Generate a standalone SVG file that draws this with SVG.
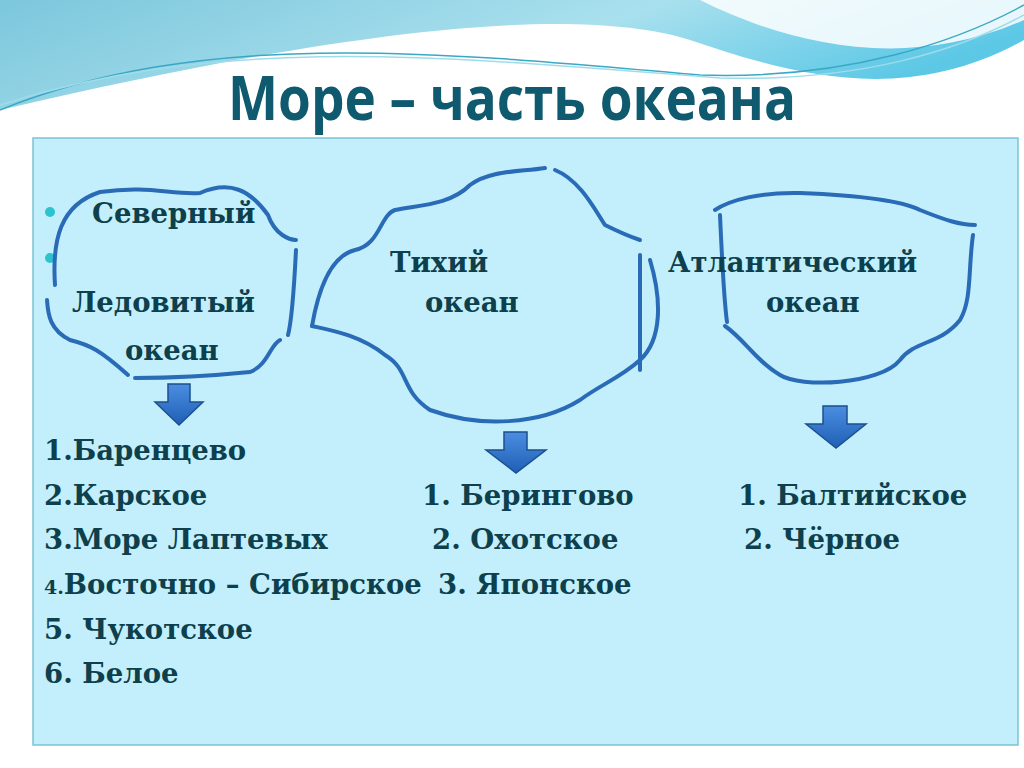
<svg xmlns="http://www.w3.org/2000/svg" width="1024" height="768" viewBox="0 0 1024 768">
<defs>
<linearGradient id="sky" x1="0" y1="0" x2="1" y2="0.3"><stop offset="0" stop-color="#7cc7dc"/><stop offset="0.6" stop-color="#a9e0ee"/><stop offset="1" stop-color="#5cc8e6"/></linearGradient>
<linearGradient id="ar" x1="0" y1="0" x2="0" y2="1"><stop offset="0" stop-color="#4b8ee0"/><stop offset="1" stop-color="#1f5fb6"/></linearGradient>
<style>
.t{font-family:"DejaVu Serif","Liberation Serif",serif;font-weight:bold;font-size:27.5px;fill:#0e3f4c}
.b{fill:none;stroke:#2a6bb8;stroke-width:4;stroke-linecap:round}
.a{fill:url(#ar);stroke:#1c4f90;stroke-width:1.5}
</style>
</defs>
<rect width="1024" height="768" fill="#ffffff"/>
<path d="M0 0H1024V40C900 110 780 70 690 40 560 0 300 40 0 110Z" fill="url(#sky)"/>
<path d="M700 0C780 40 900 75 1024 20V0Z" fill="#ffffff" opacity="0.85"/>
<path d="M0 110C200 30 420 50 700 75 850 80 960 40 1024 5" fill="none" stroke="#3aa8c4" stroke-width="1.5"/>
<path d="M0 105C220 35 430 55 720 78 860 82 960 50 1024 15" fill="none" stroke="#9fdceb" stroke-width="1.5"/>
<text x="512" y="120" text-anchor="middle" font-family="'Open Sans','DejaVu Sans',sans-serif" font-weight="bold" font-size="60" fill="#0f5a6e" textLength="568" lengthAdjust="spacingAndGlyphs">Море – часть океана</text>
<rect x="33" y="138" width="985" height="607" fill="#c2effb" stroke="#7bc3d6" stroke-width="1.5"/>
<circle cx="50" cy="212" r="5" fill="#2cc2d0"/>
<circle cx="50" cy="258" r="5" fill="#2cc2d0"/>
<g id="arctic">
<path class="b" d="M55 285C52 240 60 205 100 192 150 185 170 195 200 193 230 180 250 190 268 215 275 235 290 240 296 240"/>
<path class="b" d="M296 250C294 290 292 320 288 335"/>
<path class="b" d="M280 340C270 345 268 365 250 372 190 378 160 378 135 378"/>
<path class="b" d="M128 375C100 350 90 345 70 340 50 330 48 315 47 300"/>
<text class="t" x="92" y="223">Северный</text>
<text class="t" x="72" y="312">Ледовитый</text>
<text class="t" x="125" y="360">океан</text>
</g>
<g id="pacific">
<path class="b" d="M312 326C320 280 335 255 355 250 380 245 380 215 395 210 420 205 450 205 470 185 490 170 520 172 545 168"/>
<path class="b" d="M555 170C580 180 595 210 605 225 625 235 640 240 640 240"/>
<path class="b" d="M650 260C662 300 662 340 640 360 620 378 600 385 580 400 540 425 480 428 430 410 400 390 410 370 385 355 360 335 330 330 312 326"/>
<path class="b" d="M640 255V370"/>
<text class="t" x="390" y="272">Тихий</text>
<text class="t" x="425" y="312">океан</text>
</g>
<g id="atlantic">
<path class="b" d="M715 210C730 200 760 192 800 193 850 195 900 200 920 210 945 220 960 225 975 225"/>
<path class="b" d="M973 235C968 270 972 300 960 320 940 345 915 340 900 360 880 385 800 388 780 375 755 360 745 340 725 326"/>
<path class="b" d="M720 215C722 260 724 300 727 322"/>
<text class="t" x="668" y="272">Атлантический</text>
<text class="t" x="766" y="312">океан</text>
</g>
<g id="connectors">
<path class="a" d="M168 384H190V402H203L179 425 155 402H168Z"/>
<path class="a" d="M504 432H527V450H546L516 473 486 450H504Z"/>
<path class="a" d="M823 406H847V424H866L836 448 806 424H823Z"/>
</g>
<g id="lists">
<text class="t" x="44" y="460">1.Баренцево</text>
<text class="t" x="44" y="505">2.Карское</text>
<text class="t" x="44" y="549">3.Море Лаптевых</text>
<text class="t" x="44" y="594"><tspan font-size="19">4.</tspan>Восточно – Сибирское</text>
<text class="t" x="44" y="639">5. Чукотское</text>
<text class="t" x="44" y="683">6. Белое</text>
<text class="t" x="422" y="505">1. Берингово</text>
<text class="t" x="432" y="549">2. Охотское</text>
<text class="t" x="438" y="594">3. Японское</text>
<text class="t" x="738" y="505">1. Балтийское</text>
<text class="t" x="744" y="549">2. Чёрное</text>
</g>
</svg>
